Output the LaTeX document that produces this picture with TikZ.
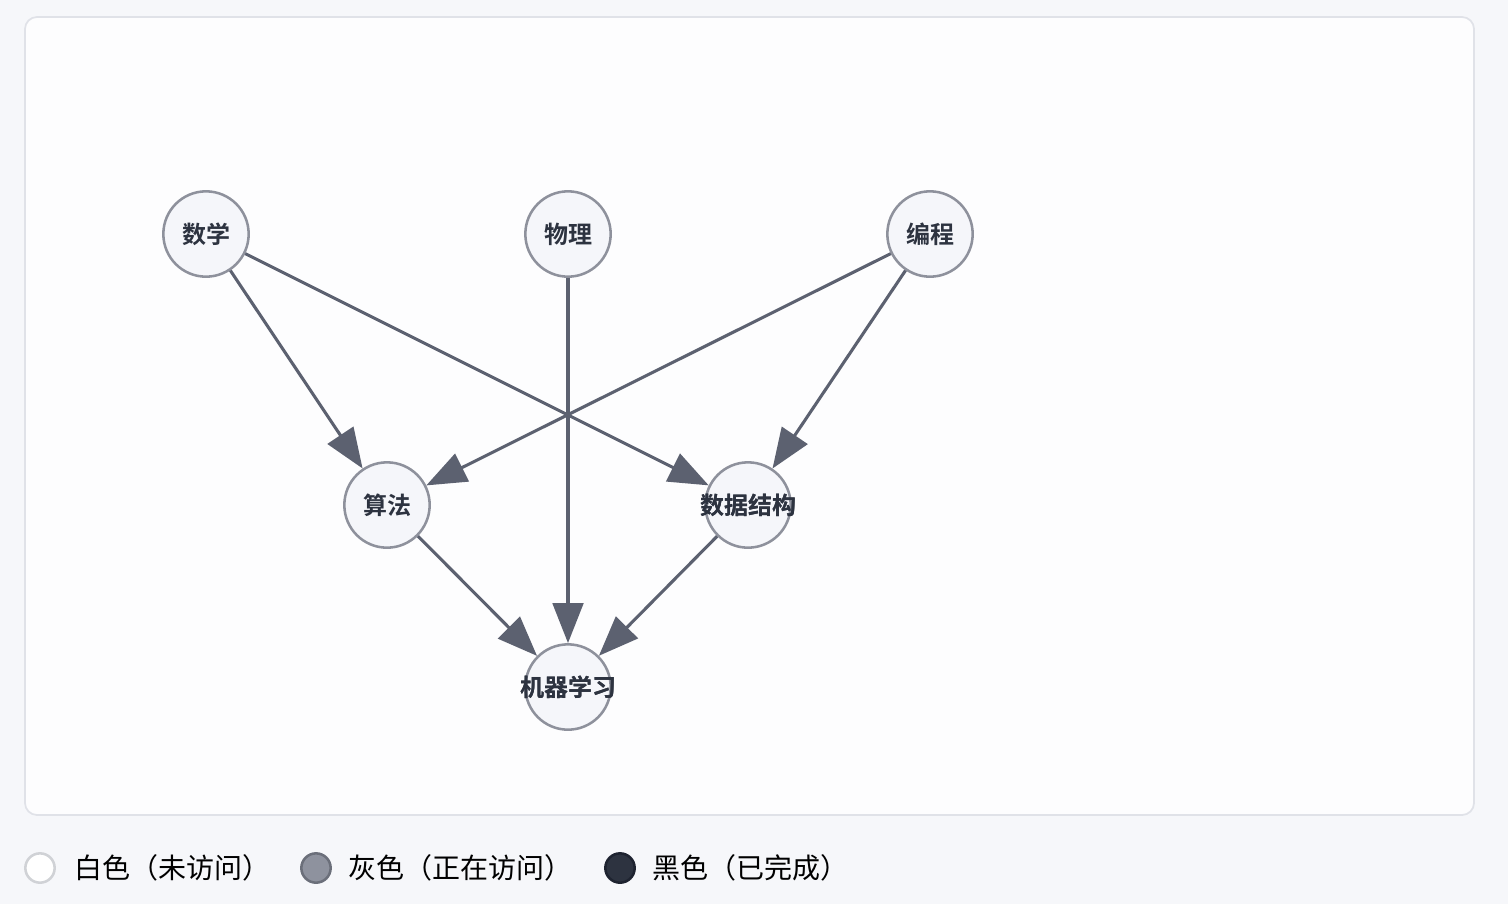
\documentclass[tikz,border=0pt]{standalone}
\usepackage{fontspec}
\setmainfont{Noto Sans CJK SC}
\newfontfamily\cjkb{Noto Sans CJK SC Bold}
\usetikzlibrary{arrows.meta}
\definecolor{bgc}{HTML}{F6F7FA}
\definecolor{panelc}{HTML}{FDFDFE}
\definecolor{panelb}{HTML}{E0E2E8}
\definecolor{nodefill}{HTML}{F5F6FA}
\definecolor{nodeb}{HTML}{8E919C}
\definecolor{edgec}{HTML}{5C6170}
\definecolor{txtc}{HTML}{2D3340}
\definecolor{whiteb}{HTML}{D0D2D6}
\definecolor{grayf}{HTML}{8E929E}
\definecolor{grayb}{HTML}{6B6F7A}
\definecolor{blackf}{HTML}{2D3340}
\definecolor{blackb}{HTML}{1E2330}
\tikzset{
  vnode/.style={circle, draw=nodeb, fill=nodefill, line width=1.9pt, minimum size=64pt, inner sep=0pt, text=txtc, font=\cjkb\fontsize{18pt}{18pt}\selectfont},
  edge/.style={draw=edgec, line width=2.3pt, -{Triangle[length=30pt,width=23pt]}},
  legdot/.style={circle, line width=1.9pt, minimum size=22pt, inner sep=0pt},
  legtxt/.style={anchor=west, inner sep=0pt, text=black, font=\fontsize{21pt}{21pt}\selectfont}
}
\newcommand{\zw}[1]{\makebox[0pt][c]{#1}}
\begin{document}
\begin{tikzpicture}[x=0.75pt,y=-0.75pt]
\fill[bgc] (0,0) rectangle (1508,904);
\useasboundingbox (0,0) rectangle (1508,904);
\draw[panelb, fill=panelc, line width=1.3pt, rounded corners=9pt] (25,17) rectangle (1474,815);
\node[vnode] (sx) at (206,234) {\zw{数学}};
\node[vnode] (wl) at (568,234) {\zw{物理}};
\node[vnode] (bc) at (930,234) {\zw{编程}};
\node[vnode] (sf) at (387,505) {\zw{算法}};
\node[vnode] (sj) at (748,505) {\zw{数据结构}};
\node[vnode] (ml) at (568,687) {\zw{机器学习}};
\draw[edge] (sx) -- (sf);
\draw[edge] (sx) -- (sj);
\draw[edge] (wl) -- (ml);
\draw[edge] (bc) -- (sf);
\draw[edge] (bc) -- (sj);
\draw[edge] (sf) -- (ml);
\draw[edge] (sj) -- (ml);
\node[vnode, draw=none, fill=none] (sjt) at (748,505) {\zw{数据结构}};
\node[vnode, draw=none, fill=none] (mlt) at (568,687) {\zw{机器学习}};
\node[legdot, draw=whiteb, fill=white] (l1) at (40,868) {};
\node[legtxt] (t1) at (74,868) {白色（未访问）};
\node[legdot, draw=grayb, fill=grayf] (l2) at (316,868) {};
\node[legtxt] (t2) at (348,868) {灰色（正在访问）};
\node[legdot, draw=blackb, fill=blackf] (l3) at (620,868) {};
\node[legtxt] (t3) at (652,868) {黑色（已完成）};
\end{tikzpicture}
\end{document}
